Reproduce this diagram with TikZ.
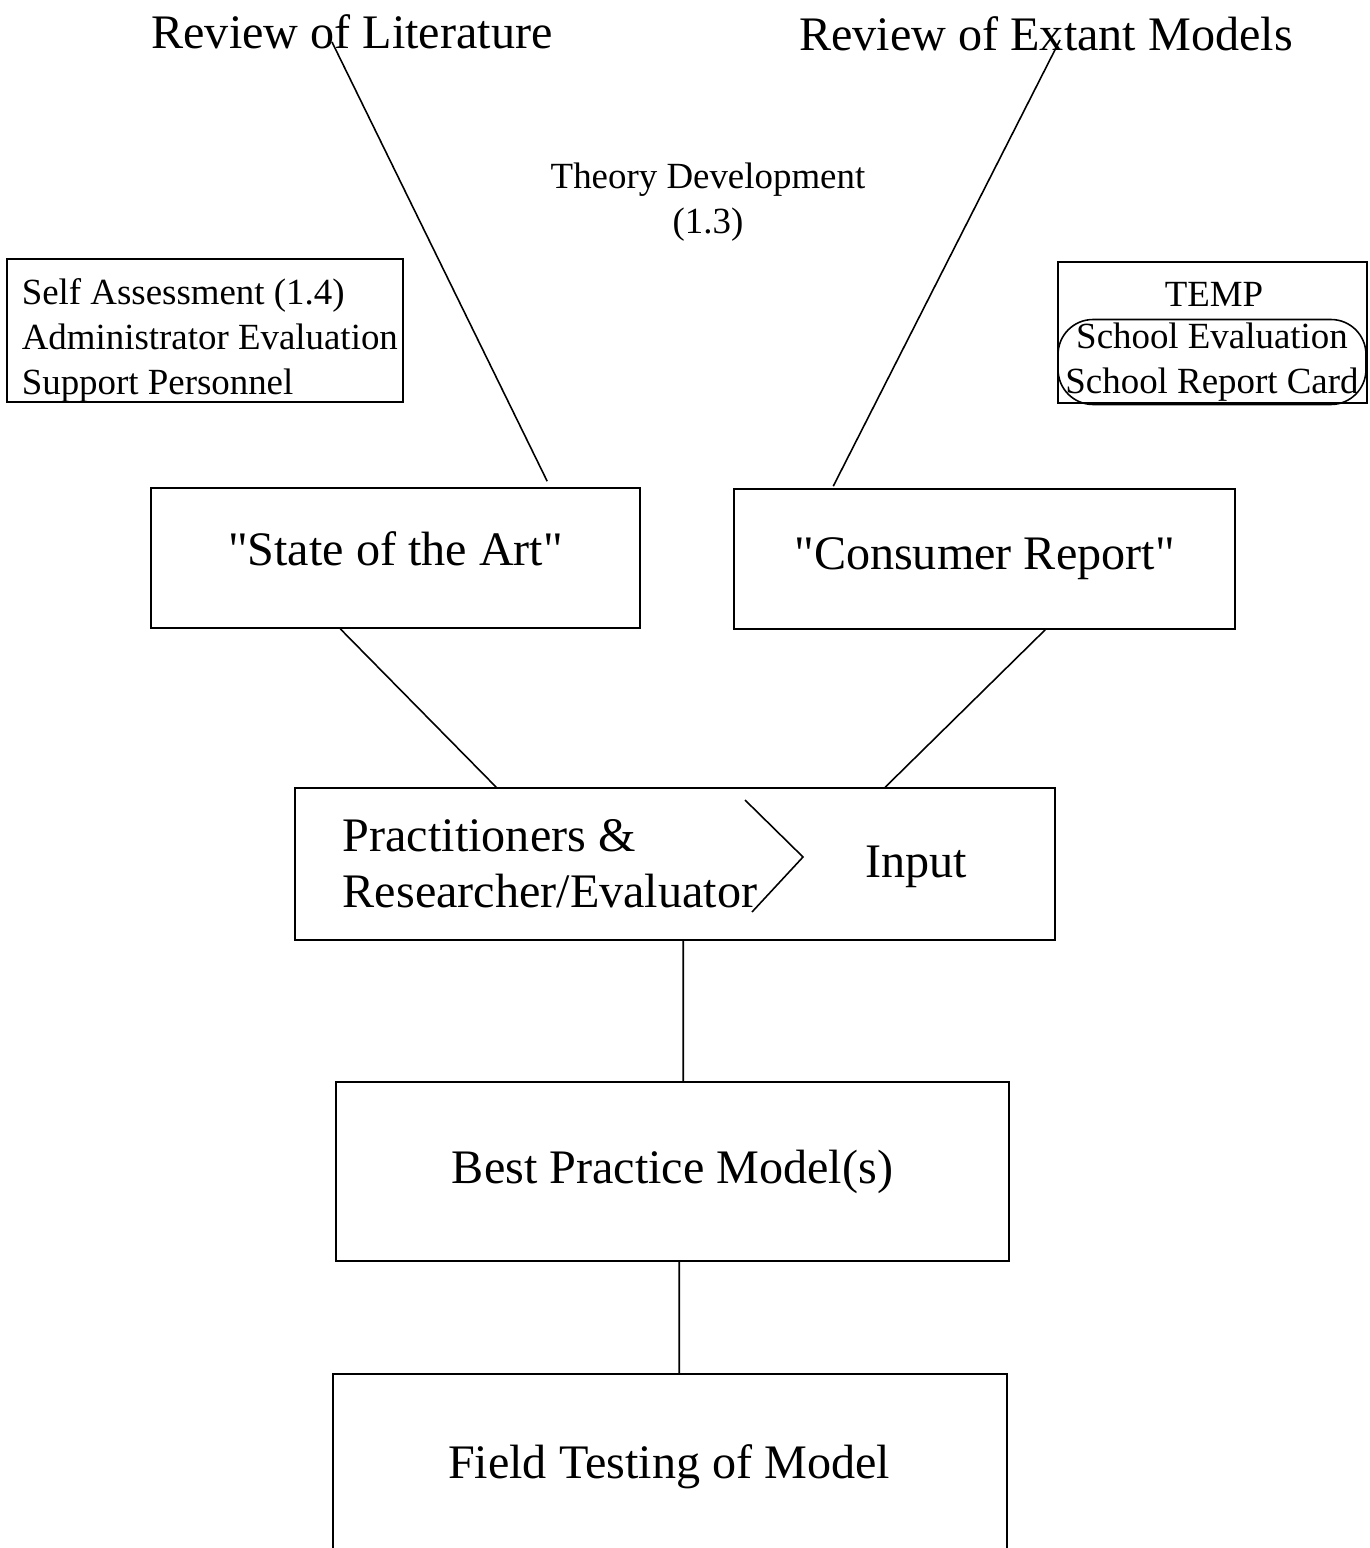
\documentclass[tikz,border=0pt]{standalone}
\usepackage{fontspec}
\setmainfont{Liberation Serif}
\usetikzlibrary{positioning}
\begin{document}
\begin{tikzpicture}[x=0.02cm,y=-0.02cm,line width=0.9pt,
        box/.style={draw,rectangle,inner sep=0pt},
        big/.style={font=\fontsize{27.4}{32}\selectfont,inner sep=0pt},
        small/.style={font=\fontsize{21}{25.6}\selectfont,inner sep=0pt}]
        \useasboundingbox (0,0) rectangle (1369,1548);
        \node[big] (lit) at (352,32) {Review of Literature};
        \node[big] (ext) at (1046,34) {Review of Extant Models};
        \node[small,align=center] (theory) at (708,202) {Theory Development\\(1.3)};
        \node[box,minimum width=7.92cm,minimum height=2.86cm] (self) at (205,330.5) {};
        \node[small,align=left,anchor=west] (selftxt) at (21,340) {Self Assessment (1.4)\\Administrator Evaluation\\Support Personnel};
        \node[box,minimum width=6.18cm,minimum height=2.82cm] (temp) at (1212.5,332.5) {};
        \node[small] (tname) at (1214,294) {TEMP};
        \node[draw,rounded corners=0.7cm,small,align=center,minimum width=6.16cm,minimum height=1.7cm] (card) at (1212,362) {School Evaluation\\School Report Card};
        \node[box,big,text depth=11pt,minimum width=9.78cm,minimum height=2.8cm] (art) at (395.5,558) {\textquotedbl State of the Art\textquotedbl};
        \node[box,big,minimum width=10.02cm,minimum height=2.8cm] (cons) at (984.5,559) {\textquotedbl Consumer Report\textquotedbl};
        \node[box,minimum width=15.2cm,minimum height=3.04cm] (prac) at (675,864) {};
        \node[big,align=left,anchor=west] (who) at (342,864) {Practitioners \&\\Researcher/Evaluator};
        \node[big] (inp) at (916,867) {Input};
        \node[box,big,minimum width=13.46cm,minimum height=3.58cm] (best) at (672.5,1171.5) {Best Practice Model(s)};
        \node[box,minimum width=13.48cm,minimum height=4.4cm,anchor=north] (field) at (670,1373) {};
        \node[big] (fieldtxt) at (669,1467) {Field Testing of Model};
        \coordinate (litend) at (332,42);
        \coordinate (extend) at (1060,40);

        \draw (litend) -- ([xshift=7.94cm,yshift=0.12cm]art.north west);
        \draw (extend) -- ([xshift=2cm,yshift=0.04cm]cons.north west);
        \draw ([xshift=3.8cm]art.south west) -- ([xshift=4.04cm]prac.north west);
        \draw ([xshift=6.24cm]cons.south west) -- ([xshift=11.82cm]prac.north west);
        \draw ([xshift=7.78cm]prac.south west) -- ([xshift=6.96cm]best.north west);
        \draw ([xshift=6.88cm]best.south west) -- ([xshift=6.94cm]field.north west);
        \draw (745,800) -- (803,857) -- (752,912);
    \end{tikzpicture}
\end{document}
